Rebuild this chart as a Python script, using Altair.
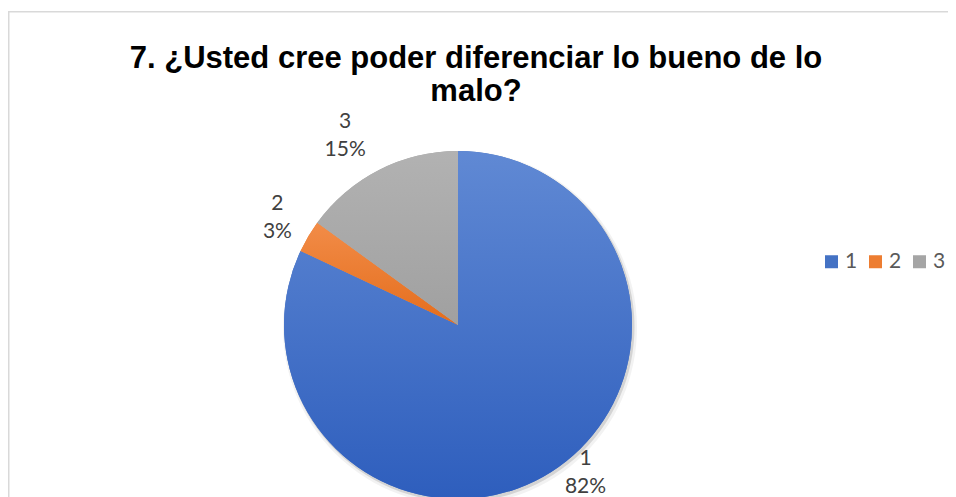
import altair as alt
import pandas as pd

categories = ["1", "2", "3"]
percents = [82, 3, 15]
colors = ["#4472C4", "#ED7D31", "#A5A5A5"]
grad_top = ["#6089d4", "#f28c48", "#b2b2b2"]
grad_bot = ["#2e5ebd", "#e46d1c", "#a0a0a0"]
title_text = "7. ¿Usted cree poder diferenciar lo bueno de lo\nmalo?"

df = pd.DataFrame({"cat": categories, "pct": percents, "ord": list(range(len(categories)))})

CX, CY, R = 450, 317, 174
W, H = 940, 500

base = alt.Chart(df).transform_window(
    cum="sum(pct)", sort=[alt.SortField("ord")], frame=[None, 0]
).transform_joinaggregate(
    total="sum(pct)"
).transform_calculate(
    t0="2*PI*(datum.cum - datum.pct)/datum.total",
    t1="2*PI*datum.cum/datum.total",
    tm="2*PI*(datum.cum - datum.pct/2)/datum.total",
    lab="datum.cat + '\\n' + datum.pct + '%'",
)

one = pd.DataFrame({"k": [0]})

box = alt.Chart(one).mark_rect(
    fillOpacity=0, stroke="#d9d9d9", strokeWidth=1.5
).encode(
    x=alt.value(0.75), x2=alt.value(1200), y=alt.value(3.75), y2=alt.value(900)
)

title = alt.Chart(one).mark_text(
    text=title_text, lineBreak="\n", font="Liberation Sans", fontWeight="bold",
    fontSize=31, lineHeight=33, align="center", baseline="middle", color="#000000"
).encode(x=alt.value(468), y=alt.value(51))

shadow1 = base.mark_arc(radius=177, color="#000000", opacity=0.05).encode(
    theta=alt.Theta("t0:Q", scale=None), theta2="t1:Q",
    x=alt.value(CX + 2), y=alt.value(CY + 3)
)
shadow2 = base.mark_arc(radius=175, color="#000000", opacity=0.12).encode(
    theta=alt.Theta("t0:Q", scale=None), theta2="t1:Q",
    x=alt.value(CX + 1.5), y=alt.value(CY + 2)
)

pie = base.mark_arc(radius=R).encode(
    theta=alt.Theta("t0:Q", scale=None), theta2="t1:Q",
    x=alt.value(CX), y=alt.value(CY),
    color=alt.Color(
        "cat:N",
        scale=alt.Scale(domain=categories, range=colors),
        legend=alt.Legend(
            title=None, orient="none", legendX=813, legendY=243, direction="horizontal",
            symbolType="square", symbolSize=169, symbolStrokeWidth=0, symbolOpacity=1,
            labelFont="Lato", labelFontSize=21, labelColor="#595959",
            labelOffset=3, columnPadding=7, padding=0,
        ),
    ),
)

grad_layers = []
for i, c in enumerate(categories):
    g = alt.Gradient(
        gradient="linear",
        stops=[alt.GradientStop(color=grad_top[i], offset=0), alt.GradientStop(color=grad_bot[i], offset=1)],
        x1=0, x2=0, y1=0, y2=1,
    )
    grad_layers.append(
        base.transform_filter(alt.datum.cat == c).mark_arc(radius=R, color=g).encode(
            theta=alt.Theta("t0:Q", scale=None), theta2="t1:Q",
            x=alt.value(CX), y=alt.value(CY),
        )
    )

label_specs = {"1": (195, 23, -31), "2": (211, 1, -14), "3": (222, -12, -5)}
label_layers = []
for c in categories:
    r, dx, dy = label_specs[c]
    label_layers.append(
        base.transform_filter(alt.datum.cat == c).mark_text(
            radius=r, dx=dx, dy=dy, lineBreak="\n", font="Lato", fontSize=21, lineHeight=28,
            align="center", baseline="middle", color="#404040",
        ).encode(
            theta=alt.Theta("tm:Q", scale=None), text="lab:N",
            x=alt.value(CX), y=alt.value(CY),
        )
    )

chart = alt.layer(box, title, shadow1, shadow2, pie, *grad_layers, *label_layers).properties(
    width=W, height=H, padding=0, autosize=alt.AutoSizeParams(type="none"),
).configure_view(stroke=None)

chart.save("out.html", embed_options={"renderer": "svg", "actions": False})
